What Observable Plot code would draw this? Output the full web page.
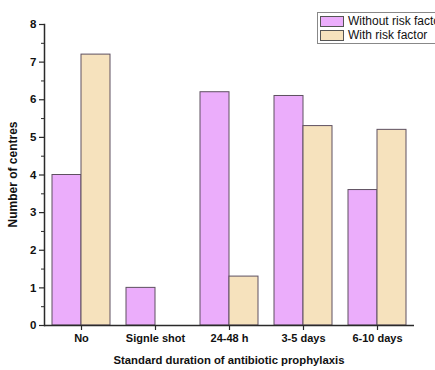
<!DOCTYPE html>
<html>
<head>
<meta charset="utf-8">
<script src="https://cdn.jsdelivr.net/npm/d3@7"></script>
<script src="https://cdn.jsdelivr.net/npm/@observablehq/plot@0.6"></script>
<style>
  html, body { margin: 0; padding: 0; background: #fff; overflow: hidden; }
  #wrap { position: relative; width: 435px; height: 370px; overflow: hidden; font-family: "Liberation Sans", Arial, sans-serif; }
  #legend { position: absolute; left: 317px; top: 12px; border: 1px solid #888; background: #fff; padding: 1px 2px 1px 2px; white-space: nowrap; font-size: 12px; color: #111; }
  #legend .row { display: flex; align-items: center; height: 14px; }
  #legend .sw { width: 24px; height: 11px; border: 1px solid #555; margin-right: 4px; box-sizing: border-box; }
</style>
</head>
<body>
<div id="wrap">
  <div id="chart"></div>
  <div id="legend"></div>
</div>
<script>
const categories = ["No", "Signle shot", "24-48 h", "3-5 days", "6-10 days"];
const seriesNames = ["Without risk factor", "With risk factor"];
const withoutRisk = [4.0, 1.0, 6.2, 6.1, 3.6];
const withRisk = [7.2, 0, 1.3, 5.3, 5.2];
const colors = ["#EBADFB", "#F6E2BD"];
const yTicks = [0, 1, 2, 3, 4, 5, 6, 7, 8];
const xLabel = "Standard duration of antibiotic prophylaxis";
const yLabel = "Number of centres";

const data = [];
categories.forEach((c, i) => {
  data.push({cat: c, series: seriesNames[0], value: withoutRisk[i]});
  data.push({cat: c, series: seriesNames[1], value: withRisk[i]});
});

const axisColor = "#2a2a2a";

const plot = Plot.plot({
  width: 435,
  height: 370,
  marginLeft: 42,
  marginRight: 19,
  marginTop: 24,
  marginBottom: 45,
  style: {fontFamily: "'Liberation Sans', Arial, sans-serif", fontSize: "11px", color: "#111", background: "#fff"},
  fx: {domain: categories, padding: 0, label: null},
  x: {domain: seriesNames, paddingInner: 0, paddingOuter: 0.27, axis: null},
  y: {domain: [0, 8], label: null},
  color: {domain: seriesNames, range: colors},
  marks: [
    Plot.barY(data.filter(d => d.value > 0), {fx: "cat", x: "series", y: "value", fill: "series", stroke: "#5e5060", strokeWidth: 1}),
    Plot.ruleY([0], {stroke: axisColor, strokeWidth: 1.5}),
    Plot.frame({anchor: "left", facetAnchor: "left", stroke: axisColor, strokeWidth: 1.5}),
    Plot.axisY({ticks: yTicks, tickSize: 5, tickPadding: 3, fontWeight: "bold", fontSize: 11.5, label: null, stroke: axisColor, strokeWidth: 1.2}),
    Plot.axisY({ticks: d3.range(0.5, 8, 1), tickSize: 3, text: null, label: null, stroke: axisColor, strokeWidth: 1}),
    Plot.axisFx({anchor: "bottom", tickSize: 5, tickPadding: 4, fontWeight: "bold", label: null, stroke: axisColor, strokeWidth: 1.2})
  ]
});

// axis titles as real text
const svg = d3.select(plot);
svg.append("text")
  .attr("x", (42 + 416) / 2).attr("y", 364)
  .attr("text-anchor", "middle")
  .attr("font-weight", "bold").attr("font-size", 11.3)
  .attr("fill", "#111")
  .text(xLabel);
svg.append("text")
  .attr("transform", `translate(17, ${(24 + 325) / 2}) rotate(-90)`)
  .attr("text-anchor", "middle")
  .attr("font-weight", "bold").attr("font-size", 12)
  .attr("fill", "#111")
  .text(yLabel);

document.getElementById("chart").appendChild(plot);

const legend = document.getElementById("legend");
seriesNames.forEach((s, i) => {
  const row = document.createElement("div");
  row.className = "row";
  const sw = document.createElement("div");
  sw.className = "sw";
  sw.style.background = colors[i];
  const t = document.createElement("span");
  t.textContent = s;
  row.appendChild(sw);
  row.appendChild(t);
  legend.appendChild(row);
});
</script>
</body>
</html>
